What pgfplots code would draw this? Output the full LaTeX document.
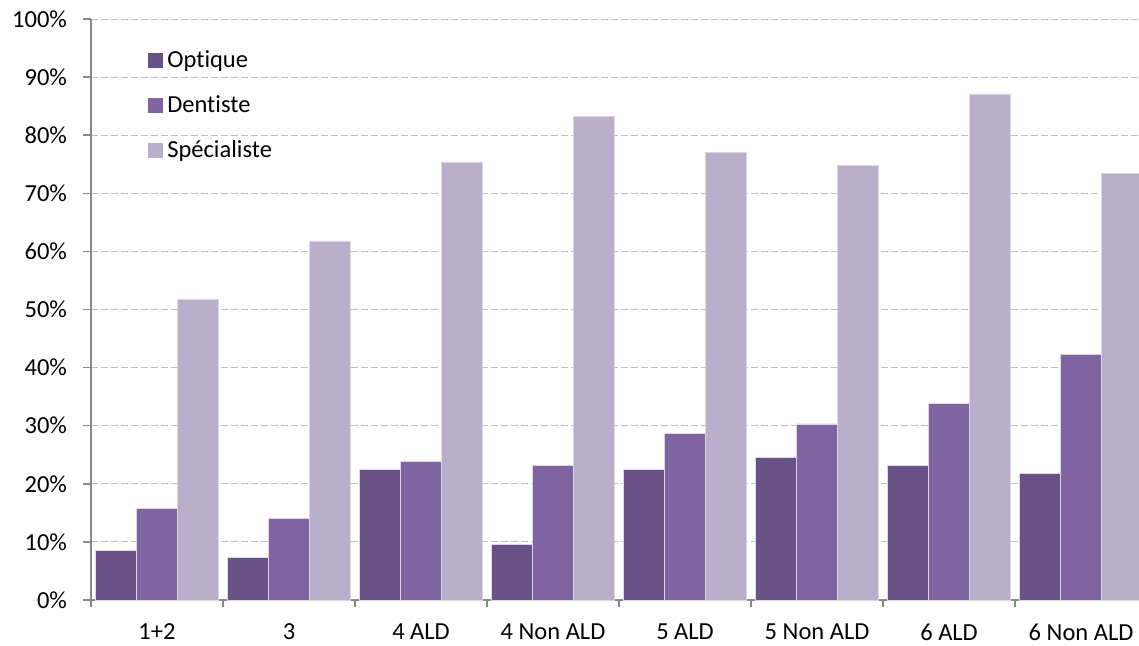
\documentclass[border=0pt]{standalone}
\usepackage{fontspec}
\setmainfont{Carlito}[Ligatures=NoCommon]
\usepackage{pgfplots}
\usepackage{pgfplotstable}
\pgfplotsset{compat=1.18}

\definecolor{optique}{HTML}{685187}
\definecolor{dentiste}{HTML}{8064A2}
\definecolor{specialiste}{HTML}{B9AFCA}
\definecolor{barline}{HTML}{DCD6E6}
\definecolor{axisgray}{HTML}{898989}
\definecolor{gridgray}{HTML}{BFBFBF}

% share of patients (%) by group
\pgfplotstableread{
idx optique dentiste specialiste
0   8.6     15.8     51.7
1   7.3     14.1     61.8
2   22.5    23.8     75.4
3   9.5     23.1     83.2
4   22.5    28.7     77.1
5   24.5    30.3     74.8
6   23.1    33.9     87.1
7   21.8    42.3     73.4
}\datatable

\pgfplotsset{
  sqlegend/.style={legend image code/.code={\fill[##1,draw=none] (0pt,-3.9pt) rectangle (7.8pt,3.9pt);}},
}

\begin{document}
\begin{tikzpicture}
\begin{axis}[
  scale only axis,
  width=524pt, height=290.5pt,
  xmin=-0.5, xmax=7.439,
  ymin=0, ymax=100,
  axis x line*=bottom, axis y line*=left,
  axis line style={axisgray, line width=0.75pt},
  tick align=outside,
  tick style={axisgray, line width=0.75pt},
  major tick length=4pt, minor tick length=3.5pt,
  major x tick style={draw=none},
  ytick={0,10,...,100},
  yticklabel={\pgfmathprintnumber{\tick}\%},
  xtick={0,...,7},
  xticklabels={1+2,3,4 ALD,4 Non ALD,5 ALD,5 Non ALD,6 ALD,6 Non ALD},
  minor xtick={-0.5,0.5,...,7.5},
  ymajorgrids,
  grid style={gridgray, dash pattern=on 3.5pt off 1.5pt, line width=0.5pt},
  /pgf/number format/assume math mode=true,
  ticklabel style={font=\fontsize{12.25}{14}\selectfont, text=black},
  yticklabel style={xshift=-4.5pt},
  xticklabel style={yshift=-4.5pt},
  legend style={
    at={(rel axis cs:0.048,0.96)}, anchor=north west,
    draw=none, fill=none,
    font=\fontsize{12.25}{14}\selectfont,
    row sep=8.5pt,
  },
  legend cell align=left,
]
\addplot[ybar, bar width=0.309, bar shift=-0.309, fill=optique, draw=barline, line width=0.4pt, sqlegend]
  table[x=idx, y=optique] {\datatable};
\addplot[ybar, bar width=0.309, bar shift=0, fill=dentiste, draw=barline, line width=0.4pt, sqlegend]
  table[x=idx, y=dentiste] {\datatable};
\addplot[ybar, bar width=0.309, bar shift=0.309, fill=specialiste, draw=barline, line width=0.4pt, sqlegend]
  table[x=idx, y=specialiste] {\datatable};
\legend{Optique, Dentiste, Spécialiste}
\coordinate (sw) at (rel axis cs:0,0);
\end{axis}
\pgfresetboundingbox
\path[use as bounding box] (sw) ++(-45.5pt,-22.5pt) rectangle ++(569.5pt,322.5pt);
\end{tikzpicture}
\end{document}
